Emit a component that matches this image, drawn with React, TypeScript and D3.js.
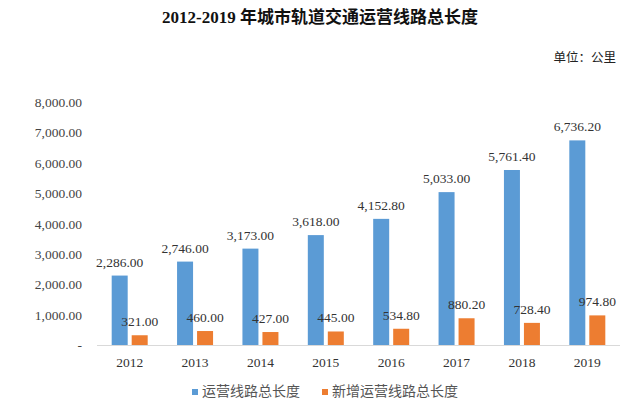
import React from "react";
import * as d3 from "d3";

const years = ["2012", "2013", "2014", "2015", "2016", "2017", "2018", "2019"];
const totalLength = [2286.0, 2746.0, 3173.0, 3618.0, 4152.8, 5033.0, 5761.4, 6736.2];
const newLength = [321.0, 460.0, 427.0, 445.0, 534.8, 880.2, 728.4, 974.8];
const yTicks = [0, 1000, 2000, 3000, 4000, 5000, 6000, 7000, 8000];
const seriesNames = ["运营线路总长度", "新增运营线路总长度"];
const colors = ["#5B9BD5", "#ED7D31"];

const W = 640, H = 408;
const left = 97, right = 620, top = 102, bottom = 345;
const serif = "'Liberation Serif', 'Times New Roman', 'Noto Sans CJK SC', serif";

export default function App() {
  const x = d3.scaleBand<string>().domain(years).range([left, right]);
  const y = d3.scaleLinear().domain([0, 8000]).range([bottom, top]);
  const fmt = d3.format(",.2f");
  const barW = 16;
  const gap = 3;
  const series = [totalLength, newLength];
  return (
    <svg width={W} height={H} style={{ position: "absolute", left: 0, top: 0, background: "#fff" }}>
      <text x={320} y={23} textAnchor="middle" fontFamily={serif} fontWeight="bold" fontSize={17} fill="#111">
        2012-2019 年城市轨道交通运营线路总长度
      </text>
      <text x={616} y={62} textAnchor="end" fontFamily={serif} fontSize={12.5} fill="#222">
        单位：公里
      </text>
      {yTicks.map((t) => (
        <text key={t} x={82} y={y(t) + 5} textAnchor="end" fontFamily={serif} fontSize={13.5} fill="#444">
          {t === 0 ? "-" : fmt(t)}
        </text>
      ))}
      <line x1={left} x2={right} y1={bottom + 0.5} y2={bottom + 0.5} stroke="#d9d9d9" strokeWidth={1} />
      {years.map((yr, i) => {
        const c = (x(yr) as number) + x.bandwidth() / 2;
        return (
          <g key={yr}>
            {series.map((s, k) => {
              const bx = k === 0 ? c - gap / 2 - barW - 0.5 : c + gap / 2 + 0.5;
              const v = s[i];
              return (
                <g key={k}>
                  <rect x={bx} y={y(v)} width={barW} height={bottom - y(v)} fill={colors[k]} />
                  <text x={bx + barW / 2} y={y(v) - 9} textAnchor="middle" fontFamily={serif} fontSize={13.5} fill="#333">
                    {fmt(v)}
                  </text>
                </g>
              );
            })}
            <text x={c} y={367} textAnchor="middle" fontFamily={serif} fontSize={13.5} fill="#333">
              {yr}
            </text>
          </g>
        );
      })}
      {seriesNames.map((n, k) => {
        const lx = k === 0 ? 192 : 322;
        return (
          <g key={n}>
            <rect x={lx} y={389} width={6} height={6} fill={colors[k]} />
            <text x={lx + 10} y={396} fontFamily={serif} fontSize={14} fill="#555">
              {n}
            </text>
          </g>
        );
      })}
    </svg>
  );
}
